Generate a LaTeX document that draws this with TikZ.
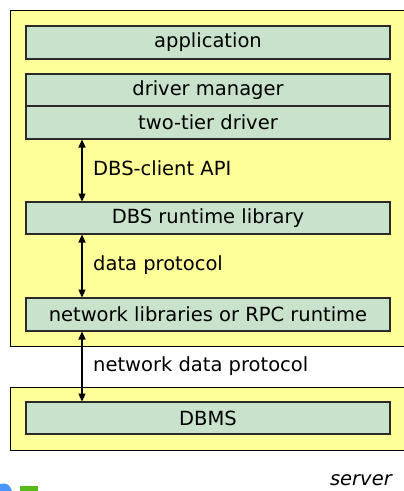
\documentclass[tikz,border=0pt]{standalone}
\usepackage{fontspec}
\setmainfont{DejaVu Sans}
\usetikzlibrary{arrows.meta}
\definecolor{yel}{HTML}{FFFF99}
\definecolor{grn}{HTML}{C9E2CB}
\definecolor{edge}{HTML}{2A2A2A}
\begin{document}
\begin{tikzpicture}[x=1pt,y=-1pt,
  tier/.style={draw=black,line width=1pt,fill=yel},
  layer/.style={draw=edge,line width=1.1pt,fill=grn},
  lbl/.style={font=\fontsize{19.5}{22}\selectfont,inner sep=0pt},
  conn/.style={line width=1.1pt,{Triangle[length=8pt,width=7pt]}-{Triangle[length=8pt,width=7pt]}}]
\useasboundingbox (0,0) rectangle (404,491);
\clip (0,0) rectangle (404,491);
\fill[white] (0,0) rectangle (404,491);
% tiers
\draw[tier] (10,10) rectangle (430,346);
\draw[tier] (10,387) rectangle (430,450);
% layers
\draw[layer] (26,26) rectangle (390,59);
\node[lbl] (app) at (208,42.5) {application};
\draw[layer] (26,74) rectangle (390,106);
\node[lbl] (dm) at (208,90) {driver manager};
\draw[layer] (26,106) rectangle (390,139);
\node[lbl] (ttd) at (208,122.5) {two-tier driver};
\draw[layer] (26,202) rectangle (390,234);
\node[lbl] (dbs) at (208,218) {DBS runtime library};
\draw[layer] (26,298) rectangle (390,331);
\node[lbl] (net) at (208,314.5) {network libraries or RPC runtime};
\draw[layer] (26,402) rectangle (390,434);
\node[lbl] (dbms) at (208,418) {DBMS};
% connectors
\coordinate (a1) at (82,139.5);
\coordinate (a2) at (82,201.5);
\coordinate (b1) at (82,234.5);
\coordinate (b2) at (82,297.5);
\coordinate (c1) at (82,331.5);
\coordinate (c2) at (82,401.5);
\draw[conn] (a1) -- (a2);
\draw[conn] (b1) -- (b2);
\draw[conn] (c1) -- (c2);
\node[lbl,anchor=west] (l1) at (93,168) {DBS-client API};
\node[lbl,anchor=west] (l2) at (93,265) {data protocol};
\node[lbl,anchor=west] (l3) at (93,366) {network data protocol};
\node[lbl,anchor=east,font=\fontsize{19.5}{22}\selectfont\itshape] (srv) at (392,480) {server};
% logo fragments
\fill[blue!60!cyan!70] (0,484) .. controls (6,482) and (10,485) .. (12,491) -- (0,491) -- cycle;
\fill[green!60!yellow!70!black!90] (20,486) rectangle (38,491);
\end{tikzpicture}
\end{document}
